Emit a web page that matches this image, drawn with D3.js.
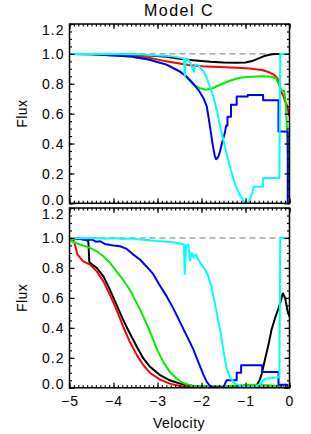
<!DOCTYPE html>
<html>
<head>
<meta charset="utf-8">
<script src="https://cdn.jsdelivr.net/npm/d3@7"></script>
<style>
  body { margin: 0; background: #fff; }
  svg text { font-family: "Liberation Sans", Arial, sans-serif; font-size: 14px; fill: #000; }
</style>
</head>
<body>
<svg id="chart" width="311" height="434"></svg>
<script>
// tick values
var xTicks = [-5, -4, -3, -2, -1, 0];
var yTicks = [0, 0.2, 0.4, 0.6, 0.8, 1.0, 1.2];

// top panel: [velocity, flux]
var topBlack = [[-5,1],[-4,1],[-3.5,0.995],[-3.0,0.985],[-2.8,0.98],[-2.5,0.968],[-2.2,0.958],[-1.8,0.947],[-1.5,0.942],[-1.2,0.94],[-1.0,0.942],[-0.85,0.952],[-0.7,0.97],[-0.55,0.988],[-0.4,0.998],[-0.3,1.0],[0,1.0]];
var topRed = [[-5,1],[-4,0.998],[-3.6,0.99],[-3.2,0.975],[-2.8,0.95],[-2.5,0.935],[-2.3,0.925],[-2.0,0.917],[-1.6,0.912],[-1.2,0.908],[-0.9,0.902],[-0.6,0.89],[-0.45,0.875],[-0.35,0.86],[-0.27,0.835],[-0.22,0.79],[-0.18,0.74],[-0.14,0.72],[-0.1,0.68],[-0.06,0.66],[-0.03,0.62],[0,0.58]];
var topGreen = [[-5,1],[-4.5,0.998],[-4,0.99],[-3.6,0.98],[-3.2,0.962],[-2.8,0.93],[-2.5,0.885],[-2.35,0.85],[-2.2,0.8],[-2.05,0.772],[-1.9,0.76],[-1.75,0.77],[-1.6,0.79],[-1.4,0.815],[-1.2,0.835],[-1.0,0.845],[-0.6,0.85],[-0.4,0.847],[-0.3,0.835],[-0.25,0.8],[-0.2,0.76],[-0.12,0.75],[-0.08,0.65],[-0.05,0.45],[-0.02,0.2],[0,0.05]];
var topBlue = [[-5,1],[-4.5,0.997],[-4,0.99],[-3.6,0.983],[-3.2,0.962],[-2.8,0.928],[-2.5,0.883],[-2.35,0.85],[-2.2,0.805],[-2.05,0.75],[-1.95,0.7],[-1.88,0.648],[-1.81,0.52],[-1.75,0.4],[-1.7,0.32],[-1.67,0.295],[-1.62,0.31],[-1.58,0.346],[-1.52,0.42],[-1.47,0.47],[-1.44,0.52],[-1.41,0.52],[-1.41,0.58],[-1.33,0.58],[-1.33,0.66],[-1.2,0.66],[-1.2,0.715],[-0.95,0.715],[-0.95,0.725],[-0.6,0.725],[-0.6,0.69],[-0.25,0.69],[-0.25,0.48],[-0.04,0.48],[-0.04,0.0],[0,0.0]];
var topCyan = [[-5,1],[-4.5,1.0],[-4,1.0],[-3.5,0.997],[-3.0,0.99],[-2.7,0.985],[-2.5,0.975],[-2.4,0.97],[-2.38,0.85],[-2.36,0.97],[-2.3,0.96],[-2.25,0.94],[-2.2,0.9],[-2.17,0.88],[-2.14,0.93],[-2.08,0.925],[-2.03,0.91],[-1.95,0.88],[-1.88,0.84],[-1.8,0.77],[-1.73,0.715],[-1.65,0.62],[-1.58,0.52],[-1.5,0.42],[-1.42,0.32],[-1.33,0.22],[-1.25,0.14],[-1.17,0.08],[-1.1,0.04],[-1.03,0.01],[-0.97,0.0],[-0.92,0.01],[-0.85,0.07],[-0.82,0.11],[-0.6,0.11],[-0.6,0.17],[-0.23,0.17],[-0.21,1.0],[0,1.0]];

// bottom panel: [velocity, flux]
var botBlack = [[-5,1.0],[-4.8,0.995],[-4.6,0.99],[-4.57,0.97],[-4.55,0.84],[-4.5,0.825],[-4.38,0.8],[-4.23,0.744],[-4.08,0.654],[-3.93,0.554],[-3.78,0.453],[-3.63,0.364],[-3.47,0.274],[-3.32,0.196],[-3.17,0.14],[-2.94,0.084],[-2.72,0.05],[-2.49,0.028],[-2.2,0.012],[-1.8,0.006],[-1.2,0.005],[-0.9,0.008],[-0.75,0.015],[-0.68,0.05],[-0.63,0.095],[-0.56,0.185],[-0.48,0.285],[-0.41,0.386],[-0.33,0.464],[-0.25,0.53],[-0.15,0.63],[-0.1,0.6],[-0.05,0.52],[0,0.475]];
var botRed = [[-5,0.985],[-4.9,0.98],[-4.87,0.95],[-4.82,0.89],[-4.69,0.844],[-4.53,0.822],[-4.38,0.777],[-4.23,0.71],[-4.08,0.62],[-3.93,0.52],[-3.78,0.408],[-3.63,0.307],[-3.47,0.218],[-3.32,0.151],[-3.17,0.099],[-2.94,0.055],[-2.72,0.028],[-2.49,0.012],[-2.2,0.005],[-1.5,0.002],[-0.5,0.002],[0,0.0]];
var botGreen = [[-5,0.985],[-4.88,0.968],[-4.76,0.956],[-4.53,0.934],[-4.38,0.911],[-4.23,0.878],[-4.08,0.834],[-3.93,0.777],[-3.78,0.721],[-3.63,0.654],[-3.47,0.565],[-3.32,0.475],[-3.17,0.374],[-3.02,0.263],[-2.87,0.173],[-2.72,0.106],[-2.57,0.062],[-2.42,0.032],[-2.2,0.012],[-1.8,0.01],[-1.4,0.012],[-1.0,0.018],[-0.7,0.02],[-0.4,0.015],[-0.2,0.01],[0,0.0]];
var botBlue = [[-5,1.0],[-4.9,1.0],[-4.8,0.995],[-4.7,0.99],[-4.6,0.985],[-4.5,0.99],[-4.4,0.975],[-4.3,0.978],[-4.2,0.96],[-4.0,0.95],[-3.85,0.945],[-3.7,0.927],[-3.55,0.889],[-3.4,0.856],[-3.25,0.81],[-3.1,0.76],[-2.94,0.68],[-2.79,0.61],[-2.64,0.53],[-2.49,0.44],[-2.34,0.35],[-2.19,0.26],[-2.07,0.17],[-1.96,0.09],[-1.88,0.04],[-1.81,0.015],[-1.73,0.003],[-1.5,0.005],[-1.43,0.05],[-1.2,0.05],[-1.2,0.1],[-1.1,0.1],[-1.1,0.15],[-0.62,0.15],[-0.62,0.105],[-0.25,0.105],[-0.25,0.02],[-0.05,0.02],[-0.03,0.0],[0,0.0]];
var botCyan = [[-5,1.0],[-4.7,0.998],[-4.4,1.0],[-4.2,0.995],[-4.0,1.0],[-3.8,0.993],[-3.6,0.997],[-3.4,0.99],[-3.2,0.985],[-3.0,0.98],[-2.8,0.975],[-2.6,0.97],[-2.45,0.96],[-2.4,0.955],[-2.38,0.76],[-2.35,0.95],[-2.3,0.955],[-2.26,0.85],[-2.22,0.9],[-2.18,0.87],[-2.13,0.89],[-2.08,0.86],[-2.0,0.82],[-1.92,0.79],[-1.85,0.75],[-1.78,0.68],[-1.72,0.6],[-1.66,0.51],[-1.6,0.42],[-1.54,0.32],[-1.48,0.21],[-1.42,0.12],[-1.35,0.07],[-1.25,0.03],[-1.1,0.01],[-0.95,0.005],[-0.8,0.005],[-0.7,0.015],[-0.62,0.04],[-0.55,0.06],[-0.4,0.065],[-0.23,0.07],[-0.21,1.0],[0,1.0]];

var svg = d3.select("#chart");

var x = d3.scaleLinear().domain([-5, 0]).range([69.5, 289.5]);

var panels = [
  { top: 24, bottom: 203.3, series: [topBlack, topRed, topGreen, topBlue, topCyan], xLabels: false },
  { top: 208, bottom: 387.8, series: [botBlack, botRed, botGreen, botBlue, botCyan], xLabels: true }
];
var colors = ["#000000", "#ff0000", "#00ee00", "#0000ff", "#00ffff"];

panels.forEach(function(p, pi) {
  var y = d3.scaleLinear().domain([0, 1.2]).range([p.bottom, p.top]);
  var g = svg.append("g");

  g.append("clipPath").attr("id", "clip" + pi)
    .append("rect")
    .attr("x", x.range()[0]).attr("y", p.top)
    .attr("width", x.range()[1] - x.range()[0]).attr("height", p.bottom - p.top);

  // dashed continuum
  g.append("line")
    .attr("x1", x(-5)).attr("x2", x(0))
    .attr("y1", y(1)).attr("y2", y(1))
    .attr("stroke", "#777").attr("stroke-width", 1)
    .attr("stroke-dasharray", "6,4");

  var line = d3.line()
    .x(function(d) { return x(d[0]); })
    .y(function(d) { return y(d[1]); });

  g.append("g").attr("clip-path", "url(#clip" + pi + ")")
    .selectAll("path")
    .data(p.series)
    .enter().append("path")
    .attr("d", line)
    .attr("fill", "none")
    .attr("stroke", function(d, i) { return colors[i]; })
    .attr("stroke-width", 2)
    .attr("stroke-linejoin", "round");

  // frame
  g.append("rect")
    .attr("x", x.range()[0]).attr("y", p.top)
    .attr("width", x.range()[1] - x.range()[0]).attr("height", p.bottom - p.top)
    .attr("fill", "none").attr("stroke", "#000").attr("stroke-width", 1.5);

  // minor ticks
  var xMinor = d3.range(-50, 1).map(function(d) { return d / 10; });
  var yMinor = d3.range(0, 25).map(function(d) { return d * 0.05; });
  g.append("g").attr("transform", "translate(0," + p.bottom + ")")
    .call(d3.axisBottom(x).tickValues(xMinor).tickSize(-2.5).tickFormat(""));
  g.append("g").attr("transform", "translate(0," + p.top + ")")
    .call(d3.axisTop(x).tickValues(xMinor).tickSize(-2.5).tickFormat(""));
  g.append("g").attr("transform", "translate(" + x.range()[0] + ",0)")
    .call(d3.axisLeft(y).tickValues(yMinor).tickSize(-2.5).tickFormat(""));
  g.append("g").attr("transform", "translate(" + x.range()[1] + ",0)")
    .call(d3.axisRight(y).tickValues(yMinor).tickSize(-2.5).tickFormat(""));

  // major ticks
  var xb = d3.axisBottom(x).tickValues(xTicks).tickSize(-5).tickPadding(8)
    .tickFormat(p.xLabels ? d3.format("d") : "");
  g.append("g").attr("class", "xb").attr("transform", "translate(0," + p.bottom + ")").call(xb);
  g.append("g").attr("transform", "translate(0," + p.top + ")")
    .call(d3.axisTop(x).tickValues(xTicks).tickSize(-5).tickFormat(""));
  g.append("g").attr("class", "yl").attr("transform", "translate(" + x.range()[0] + ",0)")
    .call(d3.axisLeft(y).tickValues(yTicks).tickSize(-5).tickPadding(5).tickFormat(d3.format(".1f")));
  g.append("g").attr("transform", "translate(" + x.range()[1] + ",0)")
    .call(d3.axisRight(y).tickValues(yTicks).tickSize(-5).tickFormat(""));

  g.selectAll(".domain").remove();
  g.selectAll(".tick line").attr("stroke", "#000").attr("stroke-width", 1.2);
  g.selectAll(".tick text").attr("font-size", 15).attr("font-family", "Liberation Sans, Arial, sans-serif")
    .style("letter-spacing", "1px");
  // keep the edge labels inside the frame
  g.selectAll(".yl .tick text").attr("dy", function(d) {
    if (d === 1.2) return "0.75em";
    if (d === 0) return "0.05em";
    return "0.35em";
  });

  svg.append("text")
    .attr("transform", "translate(27," + ((p.top + p.bottom) / 2) + ") rotate(-90)")
    .attr("text-anchor", "middle")
    .style("letter-spacing", "0.5px")
    .text("Flux");
});

svg.append("text")
  .attr("x", 179).attr("y", 16)
  .attr("text-anchor", "middle")
  .attr("font-size", 16)
  .style("font-size", "16px")
  .style("letter-spacing", "1.5px")
  .text("Model  C");

svg.append("text")
  .attr("x", 179).attr("y", 428)
  .attr("text-anchor", "middle")
  .style("letter-spacing", "0.5px")
  .text("Velocity");
</script>
</body>
</html>
